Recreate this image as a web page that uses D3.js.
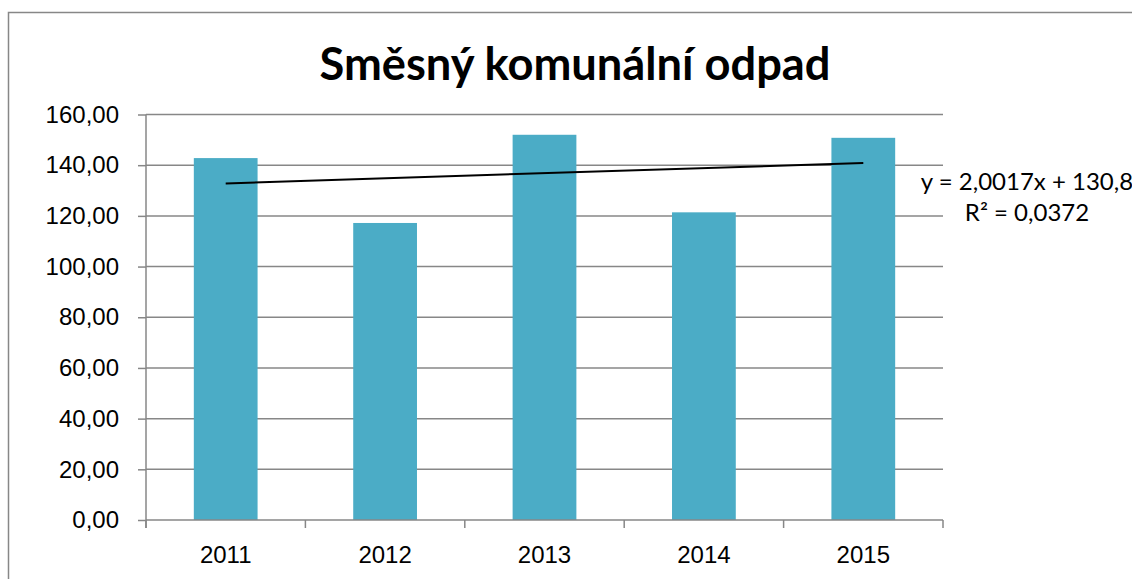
<!DOCTYPE html>
<html>
<head>
<meta charset="utf-8">
<script src="https://cdn.jsdelivr.net/npm/d3@7"></script>
<style>
  html, body { margin: 0; padding: 0; background: #fff; }
  svg { display: block; font-family: Lato, "Open Sans", sans-serif; }
</style>
</head>
<body>
<svg id="chart" width="1132" height="579"></svg>
<script>
// data
const years = ['2011', '2012', '2013', '2014', '2015'];
const values = [142.8, 117.2, 152.0, 121.4, 150.8];
const yTicks = [0, 20, 40, 60, 80, 100, 120, 140, 160];
const title = 'Směsný komunální odpad';
const trendLabel = ['y = 2,0017x + 130,8', 'R² = 0,0372'];

const svg = d3.select('#chart');
const margin = { top: 114.5, right: 189, bottom: 59, left: 146 };
const width = 1132 - margin.left - margin.right;
const height = 579 - margin.top - margin.bottom;
const grey = '#878787';

// chart frame (only top and left edges are visible in the picture)
svg.append('path')
  .attr('d', 'M8.5,579 V12.5 H1132')
  .attr('fill', 'none')
  .attr('stroke', grey)
  .attr('stroke-width', 1.5);

const g = svg.append('g')
  .attr('transform', `translate(${margin.left},${margin.top})`);

const x = d3.scaleBand()
  .domain(years)
  .range([0, width])
  .paddingInner(0.6)
  .paddingOuter(0.3);

const y = d3.scaleLinear()
  .domain([0, 160])
  .range([height, 0]);

const fmt = v => d3.format('.2f')(v).replace('.', ',');

// gridlines
g.append('g')
  .selectAll('line')
  .data(yTicks.filter(d => d > 0))
  .enter()
  .append('line')
  .attr('x1', 0)
  .attr('x2', width)
  .attr('y1', d => y(d))
  .attr('y2', d => y(d))
  .attr('stroke', grey)
  .attr('stroke-width', 1.5);

// bars
g.selectAll('.bar')
  .data(values)
  .enter()
  .append('rect')
  .attr('class', 'bar')
  .attr('x', (d, i) => x(years[i]))
  .attr('width', x.bandwidth())
  .attr('y', d => y(d))
  .attr('height', d => height - y(d))
  .attr('fill', '#4bacc6');

// y axis
const yAxis = g.append('g')
  .call(d3.axisLeft(y).tickValues(yTicks).tickSize(8).tickSizeOuter(0).tickPadding(19).tickFormat(fmt));
yAxis.select('.domain').attr('stroke', grey).attr('stroke-width', 1.5)
  .attr('d', `M0,0 V${height + 8}`);
yAxis.selectAll('.tick line').attr('stroke', grey).attr('stroke-width', 1.5);
yAxis.selectAll('text')
  .style('font-size', '24px')
  .attr('fill', '#000');

// x axis: ticks between categories
const xAxis = g.append('g')
  .attr('transform', `translate(0,${height})`)
  .call(d3.axisBottom(x).tickSize(0).tickPadding(26));
xAxis.select('.domain').attr('stroke', grey).attr('stroke-width', 1.5).attr('d', `M0,0 H${width}`);
xAxis.selectAll('text')
  .style('font-size', '24px')
  .attr('fill', '#000');
xAxis.selectAll('.sep')
  .data(d3.range(years.length + 1))
  .enter()
  .append('line')
  .attr('class', 'sep')
  .attr('x1', i => i * width / years.length)
  .attr('x2', i => i * width / years.length)
  .attr('y1', 0)
  .attr('y2', 8)
  .attr('stroke', grey)
  .attr('stroke-width', 1.5);

// linear trend line (least squares over x = 1..n)
const n = values.length;
const xs = d3.range(1, n + 1);
const mx = d3.mean(xs), my = d3.mean(values);
const slope = d3.sum(xs, (v, i) => (v - mx) * (values[i] - my)) / d3.sum(xs, v => (v - mx) ** 2);
const icpt = my - slope * mx;
const cx = i => x(years[i]) + x.bandwidth() / 2;

g.append('line')
  .attr('x1', cx(0))
  .attr('x2', cx(n - 1))
  .attr('y1', y(icpt + slope * 1))
  .attr('y2', y(icpt + slope * n))
  .attr('stroke', '#000')
  .attr('stroke-width', 2);

// trend equation label
svg.append('g')
  .selectAll('text')
  .data(trendLabel)
  .enter()
  .append('text')
  .attr('x', 1027)
  .attr('y', (d, i) => 190 + i * 31)
  .attr('text-anchor', 'middle')
  .style('font-size', '24px')
  .text(d => d);

// title
svg.append('text')
  .attr('x', 575)
  .attr('y', 80)
  .attr('text-anchor', 'middle')
  .attr('textLength', 511)
  .attr('lengthAdjust', 'spacingAndGlyphs')
  .style('font-size', '46px')
  .style('font-weight', 'bold')
  .text(title);
</script>
</body>
</html>
